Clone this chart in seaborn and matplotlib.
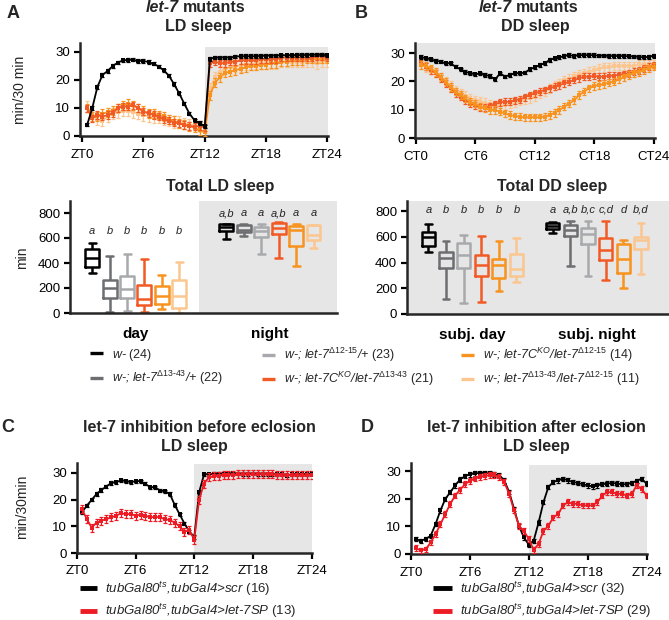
import numpy as np
import pandas as pd
import matplotlib
matplotlib.use("Agg")
import matplotlib.pyplot as plt
from matplotlib.lines import Line2D
import seaborn as sns

# ---------------- data ----------------
hours = np.arange(1, 49) * 0.5          # 30-min bins (ZT / CT 0.5 ... 24)
zt_ticks = [0, 6, 12, 18, 24]
zt_labels = ["ZT0", "ZT6", "ZT12", "ZT18", "ZT24"]
ct_labels = ["CT0", "CT6", "CT12", "CT18", "CT24"]

# Panel A : LD sleep (min / 30 min)
A_black = [4, 10, 17.5, 21.8, 23.2, 25, 26.2, 27, 27.1, 27.2, 26.8, 26.8, 26.4, 25.8, 24.8, 23.4,
           21.5, 18.5, 15.2, 11.5, 8, 5.6, 4.6, 3.5,
           27.5, 28, 28, 28, 28, 28.3, 28.5, 28.5, 28.5, 28.5, 28.6, 28.6, 28.7, 28.7, 28.8, 28.8,
           28.8, 28.9, 28.9, 28.9, 29, 29, 29, 28.8]
A_red = [9.9, 6.3, 7.5, 6.9, 7.5, 8.1, 10, 10.5, 10.5, 11, 10, 8.7, 8.1, 7.5, 6.9, 5.9,
         5.5, 4.8, 4.5, 3.9, 3.6, 3.3, 3.6, 3.1,
         26, 26.5, 26, 26, 26.5, 26.5, 27, 27, 27, 27, 27.5, 27.5, 27.5, 27.5, 28, 28,
         28, 28, 28, 28, 28, 28.5, 28.5, 28]
A_orange = [10, 7, 7, 8, 8.5, 9, 10, 11, 11.5, 11, 10, 9, 8, 8, 7.5, 7,
            6, 5.5, 4.5, 4, 3.5, 3, 2, 1.5,
            14.5, 19, 21, 22.5, 23, 23.5, 24, 24.5, 25, 25, 25.5, 25.5, 26, 26, 26.5, 26.5,
            27, 27, 27, 27.5, 27.5, 27.5, 27.5, 27.5]
A_peach = [10.5, 8, 6, 5.5, 7, 8, 8.5, 9, 9, 8.5, 8, 7.5, 7, 6.5, 6.5, 6,
           5.5, 5, 5, 4.5, 4, 4, 3.5, 3,
           17, 21, 23, 24, 24.5, 25, 25, 25.5, 25.5, 26, 26, 26, 26, 26, 26.5, 26.5,
           26.5, 26.5, 26.5, 26.5, 26.5, 26, 26.5, 26.5]

# Panel B : DD sleep
B_black = [28.7, 28.2, 27.8, 27.3, 27, 26.4, 26.4, 25.2, 24.3, 23.4, 22.9, 22.5, 22.9, 22.3, 21.9, 20.7,
           22.9, 21.7, 22.3, 22.9, 22.9, 23.1, 24.3, 25, 25.8, 26.4, 27.6, 28.2, 28.5, 29, 29.3, 29,
           29.3, 29.3, 29.3, 29.3, 29.1, 29.1, 29, 29, 29, 29, 28.9, 28.8, 28.7, 28.5, 28.7, 29]
B_red = [27, 25.2, 24, 22.9, 21.1, 19.3, 17.6, 15.8, 14.6, 13.4, 12.2, 11.5, 10.8, 10.8, 11.3, 12,
         12.6, 12.8, 12.8, 13.4, 13.6, 14.4, 15.2, 15.8, 16.4, 17, 17.6, 18.1, 18.7, 19.3, 19.9, 20.5,
         21.1, 21.7, 21.7, 21.9, 21.7, 21.7, 22, 22.1, 22.3, 22.6, 22.9, 23.4, 24, 24.6, 25.2, 25.8]
B_orange = [25.8, 25.5, 24.6, 23.4, 21.7, 19.9, 18.1, 16.4, 15.2, 14, 12.8, 12.2, 11.1, 10.5, 9.9, 9.9,
            9.3, 8.7, 8.1, 7.7, 7.5, 7.3, 7.3, 7.3, 7.3, 7.5, 8.1, 8.9, 9.9, 11.1, 12.2, 13.4,
            15.2, 16.4, 17.6, 18.4, 18.7, 19.1, 19.6, 19.9, 20.7, 21.4, 22.3, 22.9, 23.4, 24, 24.6, 25.2]
B_peach = [26, 25, 24, 23, 21.5, 20, 18.5, 17, 16, 15, 14, 13.5, 13, 12.5, 12, 11.5,
           11.5, 11.5, 12, 12.5, 13, 13.5, 14, 14.5, 15.5, 16.5, 17.5, 18.5, 19.5, 20.5, 21, 22,
           22.5, 23, 23.5, 24, 24.5, 25, 25, 25.5, 25.5, 25.5, 25.5, 25.5, 26, 26, 26, 26]

# Panel C : let-7 inhibition before eclosion
C_scr = [15.2, 17.7, 19.9, 22.1, 23.6, 24.9, 26.2, 26.5, 27.2, 26.9, 26.5, 26.9, 26.9, 25.9, 24.6, 24.6,
         23.4, 23.1, 22.1, 18, 14.5, 11, 8, 6,
         22.8, 29.4, 29.5, 29.6, 29.7, 29.6, 29.7, 29.8, 29.7, 29.6, 29.6, 29.7, 29.6, 29.6, 29.5, 29.5,
         29.4, 29.5, 29.0, 29.4, 29.5, 29.5, 29.5, 29.8]
C_sp = [16.5, 12.7, 9.5, 11.4, 12.1, 12.7, 13.3, 14, 14.8, 14.6, 14.6, 14, 14.3, 14, 13.3, 13.6,
        13.3, 12.7, 12.3, 11.4, 10, 8, 8.5, 5,
        20, 26, 28.3, 28.7, 29, 29.2, 29.3, 29.3, 29.4, 29.4, 29.5, 29.4, 29.5, 29.5, 29.4, 29.4,
        29.3, 29.3, 29.2, 29.2, 29.2, 29.2, 29.1, 29.3]

# Panel D : let-7 inhibition after eclosion
D_scr = [5.4, 4.8, 5.4, 6.6, 10.8, 15.8, 20, 22.4, 24.9, 27, 28.2, 28.9, 29.2, 29.4, 29.4, 29.2,
         28.9, 28.6, 26.7, 22.5, 16.4, 10.2, 6, 3.4,
         4.8, 11.4, 18.8, 24.3, 26.1, 26.7, 27.3, 26.7, 26.1, 25.8, 25.3, 24.9, 24.5, 24.9, 25.3, 25.5,
         25.8, 25.5, 25.3, 25.3, 25.8, 26.5, 27.3, 25.5]
D_sp = [2.1, 1.3, 1.7, 4.2, 7.2, 10.8, 14.5, 18.2, 21.2, 23.3, 25.3, 26.5, 27.3, 27.9, 28.2, 28.6,
        28.6, 27.9, 26.1, 21.8, 15.8, 10.2, 8.4, 5.4,
        1.5, 3.6, 8.4, 10.2, 13.3, 14.5, 17.6, 18.8, 18.2, 18.2, 17.6, 17.6, 17.6, 18.8, 21.2, 22.4,
        22.4, 21.8, 21.8, 21.2, 21.8, 24.9, 23.6, 21.2]

# standard errors (one typical value per series)
A_sem = {"black": 0.6, "red": 1.3, "orange": 1.6, "peach": 2.0}
B_sem = {"black": 0.6, "red": 1.2, "orange": 1.3, "peach": 1.5}
C_sem = {"scr": 0.6, "sp": 1.5}
D_sem = {"scr": 0.8, "sp": 1.0}

# Total sleep box plots: five-number summaries (min, q1, median, q3, max), minutes
genotypes = ["w-", "d13-43/+", "d12-15/+", "KO/d13-43", "KO/d12-15", "d13-43/d12-15"]
ld_day = [[323, 368, 443, 515, 560], [8, 120, 203, 267, 453], [16, 120, 195, 293, 475],
          [8, 61, 115, 221, 435], [35, 75, 133, 213, 307], [0, 40, 133, 267, 408]]
ld_night = [[595, 660, 690, 710, 715], [613, 648, 661, 701, 715], [475, 608, 656, 688, 715],
            [440, 635, 683, 720, 728], [373, 533, 667, 693, 715], [520, 581, 621, 701, 701]]
dd_day = [[483, 526, 599, 637, 697], [114, 361, 439, 483, 568], [88, 361, 457, 552, 612],
          [95, 294, 379, 462, 604], [181, 281, 379, 431, 568], [250, 294, 346, 470, 593]]
dd_night = [[630, 660, 685, 705, 712], [374, 604, 650, 689, 722], [294, 547, 624, 671, 722],
            [268, 418, 500, 593, 722], [199, 320, 431, 547, 578], [310, 508, 573, 599, 707]]
ld_periods = ["day", "night"]
dd_periods = ["subj. day", "subj. night"]
ld_letters = [["a", "b", "b", "b", "b", "b"], ["a,b", "a", "a", "a,b", "a", "a"]]
dd_letters = [["a", "b", "b", "b", "b", "b"], ["a", "a,b", "b,c", "c,d", "d", "b,d"]]

legend_labels = [
    r"w- $\mathrm{(24)}$",
    r"w-; let-7$^{\Delta 13\text{-}43}$/+ $\mathrm{(22)}$",
    r"w-; let-7$^{\Delta 12\text{-}15}$/+ $\mathrm{(23)}$",
    r"w-; let-7C$^{KO}$/let-7$^{\Delta 13\text{-}43}$ $\mathrm{(21)}$",
    r"w-; let-7C$^{KO}$/let-7$^{\Delta 12\text{-}15}$ $\mathrm{(14)}$",
    r"w-; let-7$^{\Delta 13\text{-}43}$/let-7$^{\Delta 12\text{-}15}$ $\mathrm{(11)}$",
]
C_labels = [r"tubGal80$^{ts}$,tubGal4>scr $\mathrm{(16)}$", r"tubGal80$^{ts}$,tubGal4>let-7SP $\mathrm{(13)}$"]
D_labels = [r"tubGal80$^{ts}$,tubGal4>scr $\mathrm{(32)}$", r"tubGal80$^{ts}$,tubGal4>let-7SP $\mathrm{(29)}$"]

# ---------------- style ----------------
BLACK, DGRAY, LGRAY = "#000000", "#6d6e71", "#a7a9ac"
REDOR, ORANGE, PEACH = "#f15a24", "#f7931e", "#fbc68f"
RED = "#ed1c24"
BG = "#e6e6e6"
palette = [BLACK, DGRAY, LGRAY, REDOR, ORANGE, PEACH]

sns.set_theme(style="ticks")
plt.rcParams["font.family"] = ["Liberation Sans", "DejaVu Sans"]
plt.rcParams["mathtext.fontset"] = "custom"
plt.rcParams["mathtext.rm"] = "Liberation Sans"
plt.rcParams["mathtext.it"] = "Liberation Sans:italic"
plt.rcParams["mathtext.bf"] = "Liberation Sans:bold"
plt.rcParams["axes.linewidth"] = 1.8
plt.rcParams["xtick.major.width"] = 1.6
plt.rcParams["ytick.major.width"] = 1.6
plt.rcParams["xtick.major.size"] = 4
plt.rcParams["ytick.major.size"] = 4
plt.rcParams["xtick.color"] = "black"
plt.rcParams["ytick.color"] = "black"

W, H = 669, 620
fig = plt.figure(figsize=(W / 100, H / 100), dpi=100)


def add_ax(l, t, r, b):
    return fig.add_axes([l / W, 1 - b / H, (r - l) / W, (b - t) / H])


def ftext(x, y, s, **kw):
    kw.setdefault("ha", "center")
    kw.setdefault("va", "center")
    fig.text(x / W, 1 - y / H, s, **kw)


def line_panel(ax, series, xlim, ylim, labels, shade_top=None, full_gray=False):
    if full_gray:
        ax.set_facecolor(BG)
    else:
        ax.set_facecolor("white")
        ax.axvspan(12, xlim[1], ymin=0, ymax=shade_top / ylim[1], color=BG, lw=0, zorder=0)
    for z, (vals, sem, color) in enumerate(series):
        sns.lineplot(x=hours, y=vals, color=color, lw=1.3, marker="s", markersize=2.6,
                     markeredgewidth=0, errorbar=None, ax=ax, zorder=3 + z)
        ax.errorbar(hours, vals, yerr=sem, fmt="none", ecolor=color, elinewidth=0.9,
                    capsize=1.6, capthick=0.9, zorder=3 + z)
    ax.set_xlim(*xlim)
    ax.set_ylim(*ylim)
    ax.set_xticks(zt_ticks)
    ax.set_xticklabels(labels)
    ax.set_yticks([0, 10, 20, 30])
    ax.set_xlabel("")
    ax.set_ylabel("")
    ax.tick_params(labelsize=9.5, pad=3)
    ax.tick_params(axis="x", pad=5)
    sns.despine(ax=ax)


def box_panel(ax, day, night, periods, letters, width, gap, letter_y, xlim, ylim, gray_from=None):
    rows = []
    for p, stats in zip(periods, [day, night]):
        for g, vals in zip(genotypes, stats):
            for v in vals:
                rows.append((p, g, v))
    df = pd.DataFrame(rows, columns=["period", "genotype", "value"])
    if gray_from is None:
        ax.set_facecolor(BG)
    else:
        ax.set_facecolor("white")
        ax.axvspan(gray_from, xlim[1], color=BG, lw=0, zorder=0)
    sns.boxplot(data=df, x="period", y="value", hue="genotype", order=periods,
                hue_order=genotypes, palette=palette, fill=False, whis=(0, 100),
                width=width, gap=gap, linewidth=1.8, showfliers=False, legend=False, ax=ax)
    n = len(genotypes)
    for gi, lets in enumerate(letters):
        for k, s in enumerate(lets):
            ax.text(gi + (k - (n - 1) / 2) * width / n, letter_y[gi], s, ha="center",
                    va="center", fontsize=8, fontstyle="italic")
    ax.set_xlim(*xlim)
    ax.set_ylim(*ylim)
    ax.set_yticks([0, 200, 400, 600, 800])
    ax.set_xlabel("")
    ax.set_ylabel("")
    ax.tick_params(axis="y", labelsize=9.5, pad=3)
    ax.tick_params(axis="x", length=0, pad=10)
    for lab in ax.get_xticklabels():
        lab.set_fontweight("bold")
        lab.set_fontsize(11)
    sns.despine(ax=ax)


# ---- Panel A line ----
axA = add_ax(80, 43, 328, 136)
line_panel(axA, [(A_peach, A_sem["peach"], PEACH), (A_orange, A_sem["orange"], ORANGE),
                 (A_red, A_sem["red"], REDOR), (A_black, A_sem["black"], BLACK)],
           (-0.2, 24.05), (0, 33.2), zt_labels, shade_top=31.8)

# ---- Panel B line ----
axB = add_ax(415, 43, 655, 138)
line_panel(axB, [(B_peach, B_sem["peach"], PEACH), (B_red, B_sem["red"], REDOR),
                 (B_orange, B_sem["orange"], ORANGE), (B_black, B_sem["black"], BLACK)],
           (-0.1, 24.15), (0, 33.6), ct_labels, full_gray=True)

# ---- Box plots ----
axAb = add_ax(70, 201, 337, 313)
box_panel(axAb, ld_day, ld_night, ld_periods, ld_letters, 0.78, 0.2, [655, 800],
          (-0.49, 1.5), (0, 896), gray_from=0.47)
axBb = add_ax(407, 201, 669, 314)
box_panel(axBb, dd_day, dd_night, dd_periods, dd_letters, 0.85, 0.25, [810, 810],
          (-0.526, 1.58), (0, 878))

# ---- Panel C / D ----
axC = add_ax(77, 463, 312, 553)
line_panel(axC, [(C_scr, C_sem["scr"], BLACK), (C_sp, C_sem["sp"], RED)],
           (0, 24.05), (0, 33.7), zt_labels, shade_top=33.4)
axD = add_ax(411, 463, 647, 554)
line_panel(axD, [(D_scr, D_sem["scr"], BLACK), (D_sp, D_sem["sp"], RED)],
           (0, 24.05), (0, 33.0), zt_labels, shade_top=32.2)

# ---- texts ----
ftext(13, 13, "A", fontsize=13, fontweight="bold")
ftext(361, 13, "B", fontsize=13, fontweight="bold")
ftext(8, 428, "C", fontsize=13, fontweight="bold")
ftext(367, 428, "D", fontsize=13, fontweight="bold")

ftext(179, 8, "let-7", fontsize=11.5, fontweight="bold", fontstyle="italic", ha="right")
ftext(183, 8, "mutants", fontsize=11.5, fontweight="bold", ha="left")
ftext(198, 26, "LD sleep", fontsize=11.5, fontweight="bold")
ftext(512, 8, "let-7", fontsize=11.5, fontweight="bold", fontstyle="italic", ha="right")
ftext(516, 8, "mutants", fontsize=11.5, fontweight="bold", ha="left")
ftext(535, 27, "DD sleep", fontsize=11.5, fontweight="bold")
ftext(220, 187, "Total LD sleep", fontsize=11.5, fontweight="bold")
ftext(552, 187, "Total DD sleep", fontsize=11.5, fontweight="bold")
ftext(199, 428, "let-7 inhibition before eclosion", fontsize=11.5, fontweight="bold")
ftext(194, 446, "LD sleep", fontsize=11.5, fontweight="bold")
ftext(536, 428, "let-7 inhibition after eclosion", fontsize=11.5, fontweight="bold")
ftext(536, 447, "LD sleep", fontsize=11.5, fontweight="bold")

ftext(20, 90, "min/30 min", fontsize=10, rotation=90)
ftext(22, 258, "min", fontsize=10, rotation=90)
ftext(22, 507, "min/30min", fontsize=10, rotation=90)

# ---- legends ----
def leg(handles, labels, x, y, fs, hl, htp, ls):
    lg = fig.legend(handles, labels, loc="center left", bbox_to_anchor=(x / W, 1 - y / H),
                    frameon=False, borderpad=0, borderaxespad=0, handlelength=hl,
                    handletextpad=htp, labelspacing=ls, prop={"size": fs, "style": "italic"})
    return lg

hs = [Line2D([], [], color=c, lw=2.4, solid_capstyle="butt") for c in palette]
leg([hs[0], hs[1]], legend_labels[0:2], 90, 367, 9, 1.05, 0.7, 0.5)
leg([hs[2], hs[3]], legend_labels[2:4], 262, 367, 9, 1.05, 0.7, 0.5)
leg([hs[4], hs[5]], legend_labels[4:6], 461, 367, 9, 1.05, 0.7, 0.5)

hc = [Line2D([], [], color=c, lw=3.5, solid_capstyle="butt") for c in (BLACK, RED)]
leg(hc, C_labels, 80, 600, 9.5, 1.3, 0.6, 0.3)
leg(hc, D_labels, 433, 600, 9.5, 1.45, 0.6, 0.3)

fig.savefig("out.png", dpi=100)
